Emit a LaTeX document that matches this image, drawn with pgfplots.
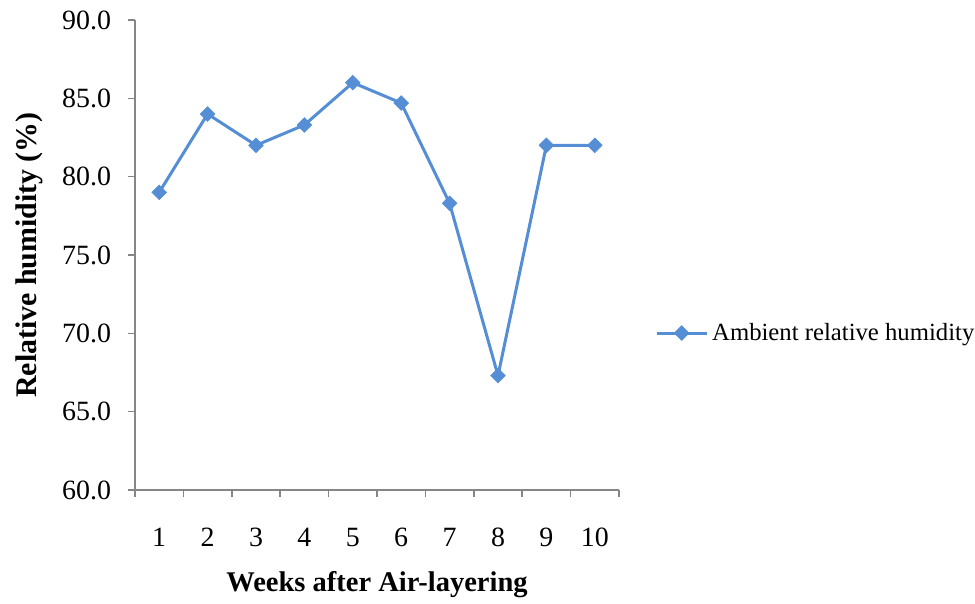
\documentclass[border=0pt]{standalone}
\usepackage{fontspec}
\setmainfont{Liberation Serif}
\usepackage{pgfplots}
\pgfplotsset{compat=1.18}
\definecolor{rhblue}{RGB}{85,142,213}
\definecolor{axgray}{RGB}{134,134,134}
\begin{document}
\begin{tikzpicture}
\useasboundingbox (-67.5bp,-57bp) rectangle ++(487.5bp,302bp);
\begin{axis}[
  at={(0,0)}, anchor=south west,
  scale only axis, width=242bp, height=235bp,
  xmin=0.5, xmax=10.5, ymin=60, ymax=90,
  axis x line*=bottom, axis y line*=left,
  axis line style={axgray, line width=0.75bp, -},
  xtick={1,...,10},
  minor xtick={0.5,1.5,...,10.5},
  major x tick style={draw=none},
  minor x tick style={axgray, line width=0.75bp},
  ytick={60,65,...,90},
  y tick style={axgray, line width=0.75bp},
  tick align=outside,
  major tick length=3.5bp, minor tick length=3.5bp,
  /pgf/number format/assume math mode=true,
  yticklabel style={/pgf/number format/fixed, /pgf/number format/fixed zerofill, /pgf/number format/precision=1, font=\fontsize{14}{16}\selectfont, xshift=-5bp},
  xticklabel style={font=\fontsize{14}{16}\selectfont, yshift=-12bp},
  xlabel={\textbf{Weeks after Air-layering}},
  ylabel={\textbf{Relative humidity (\%)}},
  xlabel style={at={(axis description cs:0.5,0)}, anchor=center, yshift=-47.5bp, font=\fontsize{14.3}{16}\selectfont},
  ylabel style={at={(axis description cs:0,0.5)}, anchor=center, yshift=53bp, font=\fontsize{15}{17}\selectfont},
  legend style={at={(axis description cs:1.074,0.334)}, anchor=west, draw=none, fill=none, inner sep=0pt, font=\fontsize{12.4}{14}\selectfont},
  legend cell align=left,
  legend image code/.code={\draw[mark repeat=2,mark phase=2] plot coordinates {(0bp,0bp)(12.5bp,0bp)(25bp,0bp)};},
  clip=false,
]
\addplot[rhblue, line width=1.5bp, mark=square*, mark size=2.6bp, mark options={rotate=45, fill=rhblue, draw=rhblue, line width=0.3bp}]
  coordinates {(1,79.0)(2,84.0)(3,82.0)(4,83.3)(5,86.0)(6,84.7)(7,78.3)(8,67.3)(9,82.0)(10,82.0)};
\addlegendentry{Ambient relative humidity}
\end{axis}
\end{tikzpicture}
\end{document}
